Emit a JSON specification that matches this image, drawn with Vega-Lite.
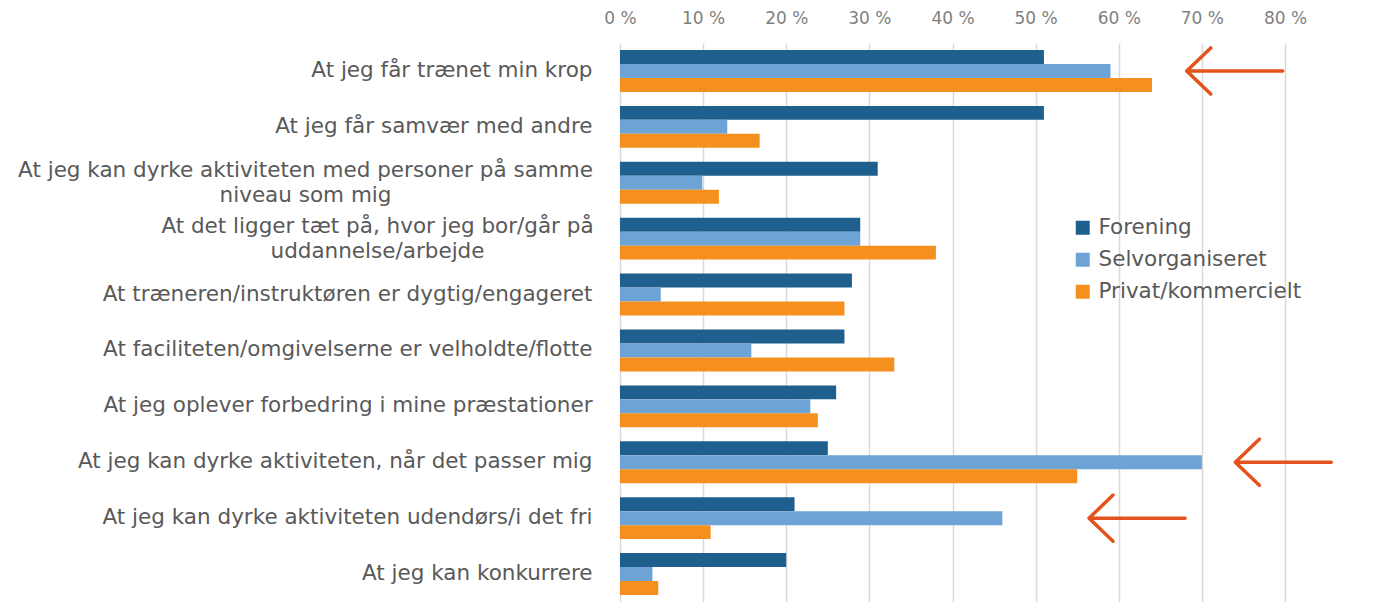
{
  "$schema": "https://vega.github.io/schema/vega-lite/v6.json",
  "width": 665,
  "height": 559,
  "autosize": {"type": "none"},
  "padding": {"left": 620, "top": 43, "right": 90, "bottom": 0},
  "background": "white",
  "config": {"view": {"stroke": null}, "font": "DejaVu Sans"},
  "layer": [
    {
      "data": {
        "values": [
          {"reason": "At jeg får trænet min krop", "type": "Forening", "pct": 0.51},
          {"reason": "At jeg får trænet min krop", "type": "Selvorganiseret", "pct": 0.59},
          {"reason": "At jeg får trænet min krop", "type": "Privat/kommercielt", "pct": 0.64},
          {"reason": "At jeg får samvær med andre", "type": "Forening", "pct": 0.51},
          {"reason": "At jeg får samvær med andre", "type": "Selvorganiseret", "pct": 0.129},
          {"reason": "At jeg får samvær med andre", "type": "Privat/kommercielt", "pct": 0.168},
          {"reason": "At jeg kan dyrke aktiviteten med personer på samme|niveau som mig", "type": "Forening", "pct": 0.31},
          {"reason": "At jeg kan dyrke aktiviteten med personer på samme|niveau som mig", "type": "Selvorganiseret", "pct": 0.099},
          {"reason": "At jeg kan dyrke aktiviteten med personer på samme|niveau som mig", "type": "Privat/kommercielt", "pct": 0.119},
          {"reason": "At det ligger tæt på, hvor jeg bor/går på|uddannelse/arbejde", "type": "Forening", "pct": 0.289},
          {"reason": "At det ligger tæt på, hvor jeg bor/går på|uddannelse/arbejde", "type": "Selvorganiseret", "pct": 0.289},
          {"reason": "At det ligger tæt på, hvor jeg bor/går på|uddannelse/arbejde", "type": "Privat/kommercielt", "pct": 0.38},
          {"reason": "At træneren/instruktøren er dygtig/engageret", "type": "Forening", "pct": 0.279},
          {"reason": "At træneren/instruktøren er dygtig/engageret", "type": "Selvorganiseret", "pct": 0.049},
          {"reason": "At træneren/instruktøren er dygtig/engageret", "type": "Privat/kommercielt", "pct": 0.27},
          {"reason": "At faciliteten/omgivelserne er velholdte/flotte", "type": "Forening", "pct": 0.27},
          {"reason": "At faciliteten/omgivelserne er velholdte/flotte", "type": "Selvorganiseret", "pct": 0.158},
          {"reason": "At faciliteten/omgivelserne er velholdte/flotte", "type": "Privat/kommercielt", "pct": 0.33},
          {"reason": "At jeg oplever forbedring i mine præstationer", "type": "Forening", "pct": 0.26},
          {"reason": "At jeg oplever forbedring i mine præstationer", "type": "Selvorganiseret", "pct": 0.229},
          {"reason": "At jeg oplever forbedring i mine præstationer", "type": "Privat/kommercielt", "pct": 0.238},
          {"reason": "At jeg kan dyrke aktiviteten, når det passer mig", "type": "Forening", "pct": 0.25},
          {"reason": "At jeg kan dyrke aktiviteten, når det passer mig", "type": "Selvorganiseret", "pct": 0.70},
          {"reason": "At jeg kan dyrke aktiviteten, når det passer mig", "type": "Privat/kommercielt", "pct": 0.55},
          {"reason": "At jeg kan dyrke aktiviteten udendørs/i det fri", "type": "Forening", "pct": 0.21},
          {"reason": "At jeg kan dyrke aktiviteten udendørs/i det fri", "type": "Selvorganiseret", "pct": 0.46},
          {"reason": "At jeg kan dyrke aktiviteten udendørs/i det fri", "type": "Privat/kommercielt", "pct": 0.109},
          {"reason": "At jeg kan konkurrere", "type": "Forening", "pct": 0.20},
          {"reason": "At jeg kan konkurrere", "type": "Selvorganiseret", "pct": 0.039},
          {"reason": "At jeg kan konkurrere", "type": "Privat/kommercielt", "pct": 0.046}
        ]
      },
      "mark": {"type": "bar"},
      "encoding": {
        "y": {
          "field": "reason",
          "type": "nominal",
          "title": null,
          "scale": {
            "domain": [
              "At jeg får trænet min krop",
              "At jeg får samvær med andre",
              "At jeg kan dyrke aktiviteten med personer på samme|niveau som mig",
              "At det ligger tæt på, hvor jeg bor/går på|uddannelse/arbejde",
              "At træneren/instruktøren er dygtig/engageret",
              "At faciliteten/omgivelserne er velholdte/flotte",
              "At jeg oplever forbedring i mine præstationer",
              "At jeg kan dyrke aktiviteten, når det passer mig",
              "At jeg kan dyrke aktiviteten udendørs/i det fri",
              "At jeg kan konkurrere"
            ],
            "paddingInner": 0.25,
            "paddingOuter": 0.125
          },
          "axis": {
            "domain": false,
            "ticks": false,
            "grid": false,
            "labelExpr": "split(datum.value, '|')",
            "labelColor": "#595959",
            "labelFont": "DejaVu Sans",
            "labelFontSize": 21.5,
            "labelLineHeight": 25,
            "labelLimit": 0,
            "labelBaseline": "middle",
            "labelAlign": {"condition": {"test": "indexof(datum.value, '|') >= 0", "value": "center"}, "value": "right"},
            "labelOffset": {"condition": {"test": "indexof(datum.value, '|') >= 0", "value": -12}, "value": 0},
            "labelPadding": {
              "condition": [
                {"test": "indexof(datum.value, 'niveau') >= 0", "value": 315},
                {"test": "indexof(datum.value, 'uddannelse') >= 0", "value": 243}
              ],
              "value": 28
            }
          }
        },
        "yOffset": {"field": "type", "sort": ["Forening", "Selvorganiseret", "Privat/kommercielt"]},
        "x": {
          "field": "pct",
          "type": "quantitative",
          "title": null,
          "scale": {"domain": [0, 0.8], "nice": false},
          "axis": {
            "orient": "top",
            "values": [0, 0.1, 0.2, 0.3, 0.4, 0.5, 0.6, 0.7, 0.8],
            "labelExpr": "round(datum.value * 100) + ' %'",
            "domain": false,
            "ticks": false,
            "grid": true,
            "gridColor": "#d9d9d9",
            "gridWidth": 1.5,
            "labelColor": "#7f7f7f",
            "labelFont": "DejaVu Sans",
            "labelFontSize": 17,
            "labelPadding": 16,
            "labelFlush": false
          }
        },
        "color": {
          "field": "type",
          "type": "nominal",
          "title": null,
          "scale": {
            "domain": ["Forening", "Selvorganiseret", "Privat/kommercielt"],
            "range": ["#1f5f8d", "#6ea4d5", "#f5901e"]
          },
          "legend": {
            "orient": "none",
            "legendX": 452,
            "legendY": 174,
            "symbolType": "square",
            "symbolSize": 196,
            "symbolStrokeWidth": 0,
            "labelFont": "DejaVu Sans",
            "labelFontSize": 21.5,
            "labelColor": "#595959",
            "labelLimit": 0,
            "labelOffset": 5,
            "rowPadding": 9
          }
        }
      }
    },
    {
      "data": {
        "values": [
          {"reason": "At jeg får trænet min krop", "x": 0.7395},
          {"reason": "At jeg kan dyrke aktiviteten, når det passer mig", "x": 0.798},
          {"reason": "At jeg kan dyrke aktiviteten udendørs/i det fri", "x": 0.622}
        ]
      },
      "mark": {
        "type": "point",
        "shape": "M-1,0L1,0M-0.5,-0.48L-1,0L-0.5,0.48",
        "filled": false,
        "size": 9216,
        "stroke": "#e2531d",
        "strokeWidth": 3.5,
        "strokeCap": "round",
        "strokeJoin": "round",
        "opacity": 1
      },
      "encoding": {
        "x": {"field": "x", "type": "quantitative"},
        "y": {"field": "reason", "type": "nominal"}
      }
    }
  ]
}
